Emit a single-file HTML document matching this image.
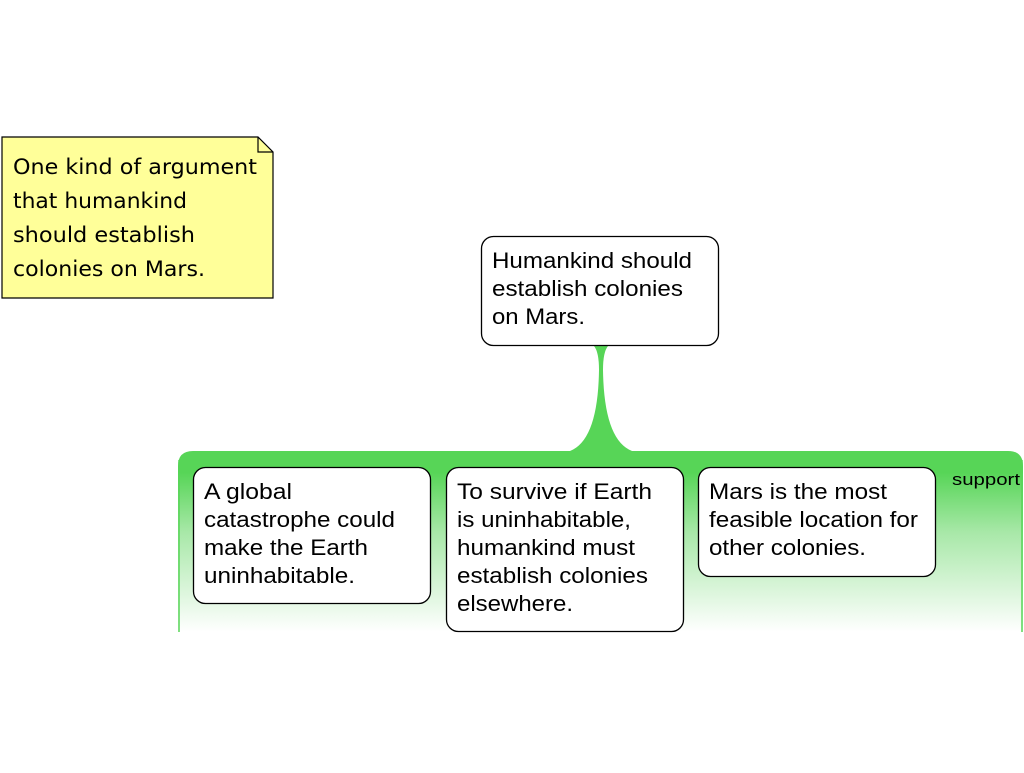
<!DOCTYPE html>
<html><head><meta charset="utf-8"><style>
body{margin:0;background:#fff;width:1024px;height:768px;overflow:hidden}
</style></head><body>
<svg width="1024" height="768" xmlns="http://www.w3.org/2000/svg">
<defs>
<linearGradient id="g" x1="0" y1="0" x2="0" y2="1">
<stop offset="0" stop-color="#57d557"/>
<stop offset="0.12" stop-color="#57d557"/>
<stop offset="0.45" stop-color="#a8e8a8"/>
<stop offset="1" stop-color="#ffffff"/>
</linearGradient>
</defs>
<path d="M178,632 L178,466 Q178,451 193,451 L1008,451 Q1023,451 1023,466 L1023,632 Z" fill="url(#g)"/>
<line x1="179" y1="460" x2="179" y2="632" stroke="#57d557" stroke-width="1.5"/>
<line x1="1022" y1="460" x2="1022" y2="632" stroke="#57d557" stroke-width="1.5"/>
<path d="M594,346 Q599,352 599,370 Q598,440 570,451 L632,451 Q604,440 603,370 Q603,352 608,346 Z" fill="#57d557"/>
<path d="M2,137 L258,137 L273,152 L273,298 L2,298 Z" fill="#ffff99" stroke="#000" stroke-width="1.2"/>
<path d="M258,137 L258,152 L273,152" fill="none" stroke="#000" stroke-width="1.2"/>
<g font-family="'Comic Sans MS','DejaVu Sans',sans-serif" font-size="21" fill="#000" lengthAdjust="spacingAndGlyphs">
<text x="13" y="174" textLength="244" lengthAdjust="spacingAndGlyphs">One kind of argument</text>
<text x="13" y="208" textLength="174" lengthAdjust="spacingAndGlyphs">that humankind</text>
<text x="13" y="242" textLength="182" lengthAdjust="spacingAndGlyphs">should establish</text>
<text x="13" y="276" textLength="192" lengthAdjust="spacingAndGlyphs">colonies on Mars.</text>
</g>
<g fill="#fff" stroke="#000" stroke-width="1.3">
<rect x="481.5" y="236.5" width="237" height="109" rx="12"/>
<rect x="193.5" y="467.5" width="237" height="136" rx="12"/>
<rect x="446.5" y="467.5" width="237" height="164" rx="12"/>
<rect x="698.5" y="467.5" width="237" height="109" rx="12"/>
</g>
<g font-family="'Liberation Sans',Arial,sans-serif" font-size="22" fill="#000">
<text x="492" y="268" textLength="200" lengthAdjust="spacingAndGlyphs">Humankind should</text>
<text x="492" y="296" textLength="191" lengthAdjust="spacingAndGlyphs">establish colonies</text>
<text x="492" y="324" textLength="93" lengthAdjust="spacingAndGlyphs">on Mars.</text>
<text x="204" y="499" textLength="88" lengthAdjust="spacingAndGlyphs">A global</text>
<text x="204" y="527" textLength="191" lengthAdjust="spacingAndGlyphs">catastrophe could</text>
<text x="204" y="555" textLength="164" lengthAdjust="spacingAndGlyphs">make the Earth</text>
<text x="204" y="583" textLength="151" lengthAdjust="spacingAndGlyphs">uninhabitable.</text>
<text x="457" y="499" textLength="195" lengthAdjust="spacingAndGlyphs">To survive if Earth</text>
<text x="457" y="527" textLength="174" lengthAdjust="spacingAndGlyphs">is uninhabitable,</text>
<text x="457" y="555" textLength="178" lengthAdjust="spacingAndGlyphs">humankind must</text>
<text x="457" y="583" textLength="191" lengthAdjust="spacingAndGlyphs">establish colonies</text>
<text x="457" y="611" textLength="116" lengthAdjust="spacingAndGlyphs">elsewhere.</text>
<text x="709" y="499" textLength="178" lengthAdjust="spacingAndGlyphs">Mars is the most</text>
<text x="709" y="527" textLength="209" lengthAdjust="spacingAndGlyphs">feasible location for</text>
<text x="709" y="555" textLength="157" lengthAdjust="spacingAndGlyphs">other colonies.</text>
<text x="952" y="485" font-size="17" textLength="68" lengthAdjust="spacingAndGlyphs">support</text>
</g>
</svg>
</body></html>
